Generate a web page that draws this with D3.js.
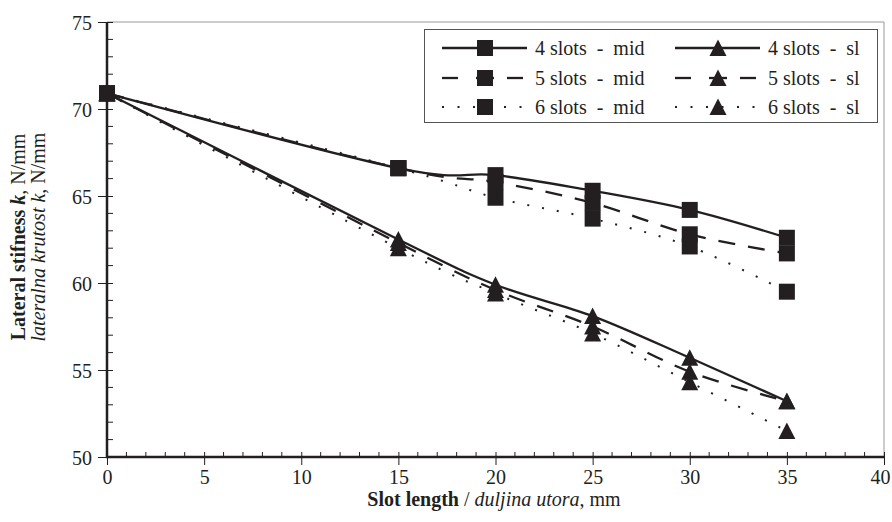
<!DOCTYPE html>
<html>
<head>
<meta charset="utf-8">
<script src="https://cdn.jsdelivr.net/npm/d3@7"></script>
<style>
  html, body { margin: 0; padding: 0; background: #fff; }
  svg { display: block; }
  svg text { font-family: "Liberation Serif", "DejaVu Serif", serif; }
</style>
</head>
<body>
<svg id="chart" width="892" height="522"></svg>
<script>
// ---- data ----
const slotLength = [0, 15, 20, 25, 30, 35];
const mid4 = [70.9, 66.6, 66.2, 65.3, 64.2, 62.6];
const mid5 = [70.9, 66.6, 65.8, 64.6, 62.8, 61.7];
const mid6 = [70.9, 66.6, 64.9, 63.7, 62.1, 59.5];
const sl4  = [70.9, 62.5, 59.9, 58.1, 55.7, 53.2];
const sl5  = [70.9, 62.3, 59.6, 57.5, 54.9, 53.2];
const sl6  = [70.9, 62.0, 59.4, 57.1, 54.3, 51.5];
const xTicks = [0, 5, 10, 15, 20, 25, 30, 35, 40];
const yTicks = [50, 55, 60, 65, 70, 75];
const seriesNames = ["4 slots  -  mid", "5 slots  -  mid", "6 slots  -  mid",
                     "4 slots  -  sl", "5 slots  -  sl", "6 slots  -  sl"];

const ink = "#231f20";
const styles = { solid: null, dashed: "17,13", dotted: "2,13" };
const series = [
  { name: seriesNames[0], values: mid4, marker: "square", dash: "solid" },
  { name: seriesNames[1], values: mid5, marker: "square", dash: "dashed" },
  { name: seriesNames[2], values: mid6, marker: "square", dash: "dotted" },
  { name: seriesNames[3], values: sl4, marker: "triangle", dash: "solid" },
  { name: seriesNames[4], values: sl5, marker: "triangle", dash: "dashed" },
  { name: seriesNames[5], values: sl6, marker: "triangle", dash: "dotted" }
];

const svg = d3.select("#chart");
const L = 107, R = 884, T = 22, B = 457;
const x = d3.scaleLinear().domain([0, 40]).range([L, R]);
const y = d3.scaleLinear().domain([50, 75]).range([B, T]);

// plot frame (light)
svg.append("line").attr("x1", L).attr("x2", R).attr("y1", T).attr("y2", T)
  .attr("stroke", "#999").attr("stroke-width", 1);
svg.append("line").attr("x1", R).attr("x2", R).attr("y1", T).attr("y2", B)
  .attr("stroke", "#999").attr("stroke-width", 1);

// minor ticks (inside)
const xMinor = d3.range(0, 41, 1).filter(v => v % 5 !== 0);
const yMinor = d3.range(50, 76, 1).filter(v => v % 5 !== 0);
svg.append("g").selectAll("line").data(xMinor).join("line")
  .attr("x1", d => x(d)).attr("x2", d => x(d)).attr("y1", B).attr("y2", B - 5)
  .attr("stroke", ink).attr("stroke-width", 1);
svg.append("g").selectAll("line").data(yMinor).join("line")
  .attr("y1", d => y(d)).attr("y2", d => y(d)).attr("x1", L).attr("x2", L + 6)
  .attr("stroke", ink).attr("stroke-width", 1);

// axes via d3
const xAxis = d3.axisBottom(x).tickValues(xTicks).tickSize(8).tickPadding(5).tickSizeOuter(0);
const yAxis = d3.axisLeft(y).tickValues(yTicks).tickSize(9).tickPadding(6).tickSizeOuter(0);
const gx = svg.append("g").attr("transform", `translate(0,${B})`).call(xAxis);
const gy = svg.append("g").attr("transform", `translate(${L},0)`).call(yAxis);
[gx, gy].forEach(g => {
  g.attr("font-family", null).attr("font-size", null);
  g.select(".domain").remove();
  g.selectAll(".tick line").attr("stroke", ink).attr("stroke-width", 1);
  g.selectAll(".tick text").attr("fill", ink)
    .style("font-size", "20px")
    .style("font-family", "'Liberation Serif', serif");
});
gx.selectAll(".tick text").filter(d => d === 40).attr("dx", -4);
// major ticks crossing inside too
gx.selectAll(".tick").append("line").attr("y1", 0).attr("y2", -5).attr("stroke", ink);
gy.selectAll(".tick").append("line").attr("x1", 0).attr("x2", 6).attr("stroke", ink);
gy.selectAll(".tick text").attr("dy", "0.35em");

// axis lines
svg.append("line").attr("x1", L).attr("x2", R).attr("y1", B).attr("y2", B)
  .attr("stroke", ink).attr("stroke-width", 2.5);
svg.append("line").attr("x1", L).attr("x2", L).attr("y1", T).attr("y2", B + 1.25)
  .attr("stroke", ink).attr("stroke-width", 2.5);

// lines
const line = d3.line()
  .x((d, i) => x(slotLength[i]))
  .y(d => y(d))
  .curve(d3.curveCatmullRom.alpha(0));

const gLines = svg.append("g");
series.forEach(s => {
  gLines.append("path").datum(s.values)
    .attr("d", line)
    .attr("fill", "none")
    .attr("stroke", ink)
    .attr("stroke-width", s.dash === "dotted" ? 2 : 2.3)
    .attr("stroke-dasharray", styles[s.dash])
    .attr("stroke-linecap", "butt");
});

// markers
const sqPath = "M-8,-8H8V8H-8Z";
const triPath = "M0,-8.5L8.5,8L-8.5,8Z";
const gMarks = svg.append("g");
series.forEach(s => {
  gMarks.selectAll(null).data(s.values).join("path")
    .attr("transform", (d, i) => `translate(${x(slotLength[i])},${y(d)})`)
    .attr("d", s.marker === "square" ? sqPath : triPath)
    .attr("fill", ink);
});

// legend
const lg = svg.append("g");
lg.append("rect").attr("x", 424.5).attr("y", 29.5).attr("width", 453).attr("height", 93)
  .attr("fill", "#fff").attr("stroke", "#555").attr("stroke-width", 1);
const rowsY = [48, 78, 107];
const colX = [442, 675];
series.forEach((s, k) => {
  const col = k < 3 ? 0 : 1;
  const row = k % 3;
  const x0 = colX[col], x1 = x0 + 85, yy = rowsY[row], cx = x0 + 43;
  if (s.dash === "solid") {
    lg.append("line").attr("x1", x0).attr("x2", x1).attr("y1", yy).attr("y2", yy)
      .attr("stroke", ink).attr("stroke-width", 2.3);
  } else if (s.dash === "dashed") {
    [[x0, x0 + 16], [cx - 9, cx + 9], [x1 - 20, x1 - 4]].forEach(([a, b]) => {
      lg.append("line").attr("x1", a).attr("x2", b).attr("y1", yy).attr("y2", yy)
        .attr("stroke", ink).attr("stroke-width", 2.3);
    });
  } else {
    lg.append("line").attr("x1", x0).attr("x2", x1).attr("y1", yy).attr("y2", yy)
      .attr("stroke", ink).attr("stroke-width", 2).attr("stroke-dasharray", "2,13.5");
  }
  lg.append("path")
    .attr("transform", `translate(${cx},${yy})`)
    .attr("d", s.marker === "square" ? sqPath : triPath).attr("fill", ink);
  lg.append("text").attr("x", x1 + 8).attr("y", yy).attr("dy", "0.35em")
    .style("font-size", "20px").attr("fill", ink)
    .attr("xml:space", "preserve").style("white-space", "pre")
    .text(s.name);
});

// axis titles
const xt = svg.append("text").attr("x", 494).attr("y", 506)
  .attr("text-anchor", "middle").style("font-size", "20px").attr("fill", ink);
xt.append("tspan").attr("font-weight", "bold").text("Slot length");
xt.append("tspan").text(" / ");
xt.append("tspan").attr("font-style", "italic").text("duljina utora");
xt.append("tspan").text(", mm");

const yt = svg.append("g").attr("transform", "translate(0,237) rotate(-90)");
const y1 = yt.append("text").attr("x", 0).attr("y", 25).attr("text-anchor", "middle")
  .style("font-size", "20px").attr("fill", ink);
y1.append("tspan").attr("font-weight", "bold").text("Lateral stifness ");
y1.append("tspan").attr("font-weight", "bold").attr("font-style", "italic").text("k");
y1.append("tspan").text(", N/mm");
const y2 = yt.append("text").attr("x", 0).attr("y", 45).attr("text-anchor", "middle")
  .style("font-size", "20px").attr("fill", ink);
y2.append("tspan").attr("font-style", "italic").text("lateralna krutost k");
y2.append("tspan").text(", N/mm");
</script>
</body>
</html>
